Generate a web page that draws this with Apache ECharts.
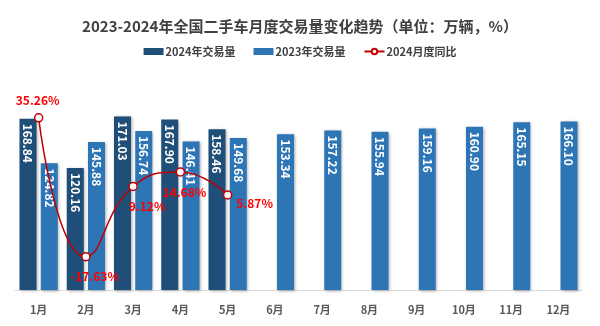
<!DOCTYPE html>
<html><head><meta charset="utf-8">
<script src="https://cdn.jsdelivr.net/npm/echarts@6/dist/echarts.min.js"></script>
<style>html,body{margin:0;padding:0;background:#fff}#c{width:600px;height:326px}</style>
</head><body><div id="c"></div>
<script>
const months = ['1月','2月','3月','4月','5月','6月','7月','8月','9月','10月','11月','12月'];
const vol2024 = [168.84, 120.16, 171.03, 167.90, 158.46, null, null, null, null, null, null, null];
const vol2023 = [124.82, 145.88, 156.74, 146.41, 149.68, 153.34, 157.22, 155.94, 159.16, 160.90, 165.15, 166.10];
const yoy2024 = [35.26, -17.63, 9.12, 14.68, 5.87, null, null, null, null, null, null, null];
const yoyLabelOffsets = [[-1,-17],[9,20],[14,20],[4,21],[27,8]];

const font = '"Noto Sans CJK SC", "Noto Sans", sans-serif';
const chart = echarts.init(document.getElementById('c'), null, {renderer:'canvas'});
const barLabel = {
  show: true, position: 'insideTop', rotate: -90, align: 'left', verticalAlign: 'middle',
  distance: 5, color: '#fff', fontWeight: 'bold', fontSize: 12, fontFamily: font,
  formatter: p => p.value == null ? '' : Number(p.value).toFixed(2)
};
const shadow = {shadowColor:'rgba(0,0,0,0.35)', shadowBlur:3, shadowOffsetX:1, shadowOffsetY:1};
chart.setOption({
  animation: false,
  title: {
    text: '2023-2024年全国二手车月度交易量变化趋势（单位：万辆，%）',
    left: 'center', top: 14,
    textStyle: {fontFamily: font, fontSize: 15, fontWeight: 'bold', color: '#404040'}
  },
  legend: {
    top: 41, left: 'center', itemGap: 18, itemWidth: 20, itemHeight: 7,
    textStyle: {fontFamily: font, fontSize: 11, fontWeight: 'bold', color: '#404040', padding: [0,0,0,-3]},
    data: [
      {name: '2024年交易量', icon: 'rect'},
      {name: '2023年交易量', icon: 'rect'},
      {name: '2024月度同比'}
    ]
  },
  grid: {left: 15, right: 18, top: 87, bottom: 36},
  xAxis: {
    type: 'category', data: months,
    axisLine: {lineStyle: {color: '#D9D9D9'}},
    axisTick: {show: false},
    axisLabel: {color: '#595959', fontWeight: 'bold', fontSize: 11, fontFamily: font, margin: 14}
  },
  yAxis: [
    {type: 'value', min: 0, max: 200, show: false, splitLine: {show: false}},
    {type: 'value', min: -30.3, max: 47, show: false, splitLine: {show: false}}
  ],
  series: [
    {name: '2024年交易量', type: 'bar', data: vol2024, barWidth: 17, barGap: '25%',
     itemStyle: Object.assign({color: '#1F4E79'}, shadow), label: barLabel},
    {name: '2023年交易量', type: 'bar', data: vol2023, barWidth: 17,
     itemStyle: Object.assign({color: '#2E75B6'}, shadow), label: barLabel},
    {name: '2024月度同比', type: 'line', yAxisIndex: 1, smooth: true, z: 10,
     symbol: 'circle', symbolSize: 8,
     lineStyle: {color: '#C00000', width: 1.5},
     itemStyle: {color: '#fff', borderColor: '#C00000', borderWidth: 1.5},
     data: yoy2024.map((v, i) => v == null ? null : {
       value: v,
       label: {show: true, position: 'inside', offset: yoyLabelOffsets[i],
         color: '#FF0000', fontWeight: 'bold', fontSize: 12, fontFamily: font,
         formatter: p => Number(p.value).toFixed(2) + '%'}
     })
    }
  ]
});
</script></body></html>
